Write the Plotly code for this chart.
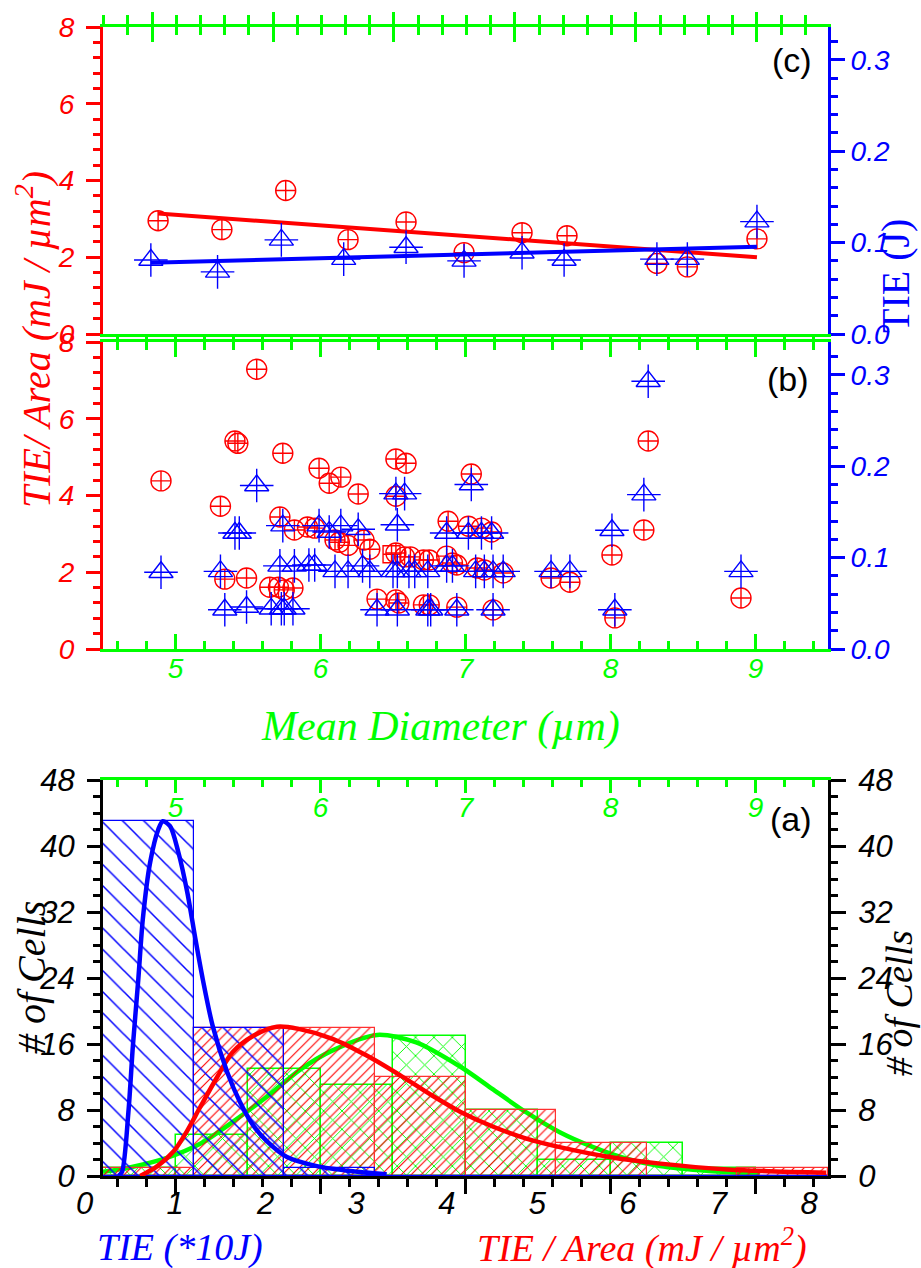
import plotly.graph_objects as go

W, H = 921, 1268
def px(x): return x / W
def py(y): return 1 - y / H

RED, BLUE, GREEN, BLACK = "#FF0000", "#0000FF", "#00FF00", "#000000"

# ---------------- data ----------------
# panel (c): averaged values vs mean diameter
c_red_d = [4.88, 5.32, 5.76, 6.19, 6.59, 6.99, 7.39, 7.70, 8.32, 8.53, 9.01]
c_red_v = [2.95, 2.72, 3.74, 2.46, 2.92, 2.12, 2.64, 2.56, 1.84, 1.75, 2.48]
c_blue_d = [4.83, 5.29, 5.73, 6.16, 6.59, 6.99, 7.39, 7.68, 8.32, 8.53, 9.01]
c_blue_v = [0.081, 0.068, 0.103, 0.082, 0.095, 0.080, 0.089, 0.081, 0.082, 0.082, 0.123]
c_red_fit_d = [4.88, 9.01]
c_red_fit_v = [3.14, 2.00]
c_blue_fit_d = [4.83, 9.01]
c_blue_fit_v = [0.078, 0.0956]

# panel (b): individual cells
b_red_d = [4.90, 5.31, 5.34, 5.41, 5.43, 5.49, 5.56, 5.65, 5.72, 5.74, 5.71, 5.75, 5.81,
           5.82, 5.91, 5.96, 5.99, 6.06, 6.10, 6.13, 6.14, 6.19, 6.26, 6.30, 6.34, 6.39,
           6.52, 6.52, 6.52, 6.52, 6.54, 6.59, 6.58, 6.62, 6.71, 6.75, 6.71, 6.75, 6.88,
           6.87, 6.91, 6.94, 6.94, 7.04, 7.02, 7.11, 7.18, 7.08, 7.13, 7.26, 7.19, 7.59,
           7.72, 8.01, 8.26, 8.23, 8.03, 8.90]
b_red_v = [4.38, 3.72, 1.82, 5.42, 5.36, 1.85, 7.29, 1.61, 3.44, 5.10, 1.61, 1.54, 1.59,
           3.10, 3.18, 3.15, 4.71, 4.32, 2.84, 2.78, 4.48, 2.70, 4.04, 2.84, 2.60, 1.30,
           4.95, 3.98, 2.50, 1.28, 1.20, 4.84, 2.40, 2.40, 2.32, 2.32, 1.15, 1.15, 3.33,
           2.42, 2.24, 2.19, 1.09, 4.56, 3.20, 3.15, 3.05, 2.11, 2.06, 1.98, 1.02, 1.85,
           1.74, 2.45, 5.42, 3.10, 0.81, 1.33]
b_sq_d = [6.49]
b_sq_v = [2.47]
b_blue_d = [5.34, 5.49, 5.66, 5.73, 5.75, 5.81, 6.39, 6.53, 6.74, 6.76, 6.94, 7.19, 8.03,
            4.90, 5.31, 5.72, 5.82, 5.92, 5.96, 6.10, 6.19, 6.29, 6.34, 6.50, 6.53, 6.61,
            6.65, 6.74, 6.87, 6.91, 7.07, 7.13, 7.19, 7.26, 7.59, 7.72, 8.90,
            5.41, 5.44, 5.74, 5.99, 6.06, 6.14, 6.26, 6.53, 6.87, 7.02, 7.11, 7.18, 8.01,
            5.56, 6.52, 6.58, 7.04, 8.23, 8.26]
b_blue_v = [0.043, 0.046, 0.044, 0.044, 0.044, 0.044, 0.043, 0.043, 0.043, 0.043, 0.043, 0.043, 0.043,
            0.084, 0.085, 0.091, 0.091, 0.092, 0.092, 0.085, 0.085, 0.091, 0.085, 0.085, 0.085, 0.085,
            0.085, 0.085, 0.091, 0.091, 0.085, 0.085, 0.085, 0.085, 0.085, 0.085, 0.085,
            0.127, 0.127, 0.135, 0.135, 0.128, 0.135, 0.131, 0.136, 0.127, 0.127, 0.127, 0.127, 0.130,
            0.179, 0.170, 0.170, 0.180, 0.169, 0.293]

# panel (a): histograms
tie_edges = [0.22, 1.22, 2.22, 3.22, 4.22, 5.22, 6.22, 7.22, 8.22]
tie_counts = [43, 18, 1, 0, 0, 0, 0, 0]          # TIE (*10 J)
area_counts = [1, 18, 18, 12, 8, 4, 0, 1]        # TIE / Area
diam_edges = [4.5, 5.0, 5.5, 6.0, 6.5, 7.0, 7.5, 8.0, 8.5, 9.0]
diam_counts = [1, 5, 13, 11, 17, 8, 2, 4, 1]     # mean diameter

tie_fit_x = [0.39, 0.43, 0.50, 0.55, 0.61, 0.66, 0.74, 0.83, 0.88, 0.96, 1.05, 1.15, 1.24,
             1.32, 1.43, 1.59, 1.73, 1.88, 2.03, 2.25, 2.58, 2.95, 3.35]
tie_fit_y = [0.0, 0.5, 7.7, 15.8, 23.9, 31.2, 38.0, 42.0, 43.0, 42.4, 39.3, 34.4, 28.7,
             23.9, 18.2, 12.6, 9.0, 6.1, 4.2, 2.3, 1.2, 0.6, 0.2]
area_fit_x = [0.63, 0.82, 1.0, 1.15, 1.29, 1.48, 1.65, 1.88, 2.14, 2.39, 2.76, 3.13, 3.5,
              3.86, 4.16, 4.52, 4.90, 5.26, 5.81, 6.37, 7.11, 8.2]
area_fit_y = [0.0, 1.2, 3.0, 5.5, 8.3, 12.0, 15.0, 17.0, 18.1, 17.8, 16.6, 14.6, 12.2,
              9.7, 7.8, 6.0, 4.5, 3.5, 2.3, 1.5, 0.8, 0.4]
diam_fit_x = [4.5, 4.70, 4.94, 5.17, 5.39, 5.63, 5.86, 6.08, 6.39, 6.66, 6.96, 7.19, 7.42,
              7.65, 7.88, 8.11, 8.34, 8.68, 9.03]
diam_fit_y = [0.5, 1.1, 2.2, 3.9, 6.5, 9.6, 12.9, 15.2, 17.1, 16.2, 13.3, 10.5, 7.7,
              5.3, 3.5, 2.1, 1.2, 0.6, 0.3]

diam_ticks = [5, 6, 7, 8, 9]
tie_labels = [0, 1, 2, 3, 4, 5, 6, 7, 8]
left_ticks = [0, 2, 4, 6, 8]
right_ticks = [0.0, 0.1, 0.2, 0.3]
count_ticks = [0, 8, 16, 24, 32, 40, 48]

# ---------------- figure ----------------
fig = go.Figure()

def centers(edges):
    return [(a + b) / 2 for a, b in zip(edges[:-1], edges[1:])]

def widths(edges):
    return [b - a for a, b in zip(edges[:-1], edges[1:])]

# histogram bars
fig.add_trace(go.Bar(x=centers(tie_edges), y=area_counts, width=widths(tie_edges),
                     xaxis="x6", yaxis="y5",
                     marker=dict(color="rgba(0,0,0,0)", line=dict(color="#FF3030", width=1.2),
                                 pattern=dict(shape="/", size=7, solidity=0.16, fgcolor=RED,
                                              bgcolor="rgba(0,0,0,0)", fillmode="replace"))))
fig.add_trace(go.Bar(x=centers(tie_edges), y=tie_counts, width=widths(tie_edges),
                     xaxis="x6", yaxis="y5",
                     marker=dict(color="rgba(0,0,0,0)", line=dict(color=BLUE, width=1.2),
                                 pattern=dict(shape="\\", size=15, solidity=0.1, fgcolor=BLUE,
                                              bgcolor="rgba(0,0,0,0)", fillmode="replace"))))
fig.add_trace(go.Bar(x=centers(diam_edges), y=diam_counts, width=widths(diam_edges),
                     xaxis="x5", yaxis="y5",
                     marker=dict(color="rgba(0,0,0,0)", line=dict(color=GREEN, width=1.5),
                                 pattern=dict(shape="x", size=13, solidity=0.14, fgcolor=GREEN,
                                              bgcolor="rgba(0,0,0,0)", fillmode="replace"))))
# fitted curves
fig.add_trace(go.Scatter(x=area_fit_x, y=area_fit_y, mode="lines", xaxis="x6", yaxis="y5",
                         line=dict(color=RED, width=4.5, shape="spline", smoothing=0.9)))
fig.add_trace(go.Scatter(x=tie_fit_x, y=tie_fit_y, mode="lines", xaxis="x6", yaxis="y5",
                         line=dict(color=BLUE, width=4.5, shape="spline", smoothing=0.8)))
fig.add_trace(go.Scatter(x=diam_fit_x, y=diam_fit_y, mode="lines", xaxis="x5", yaxis="y5",
                         line=dict(color=GREEN, width=4.5, shape="spline", smoothing=0.8)))

def circles(x, y, xa, ya):
    fig.add_trace(go.Scatter(x=x, y=y, mode="markers", xaxis=xa, yaxis=ya,
                             marker=dict(symbol="circle-cross-open", size=20, color=RED,
                                         line=dict(width=1.4, color=RED))))

def triangles(x, y, xa, ya):
    fig.add_trace(go.Scatter(x=x, y=y, mode="markers", xaxis=xa, yaxis=ya,
                             marker=dict(symbol="triangle-up-open", size=21, color=BLUE,
                                         line=dict(width=1.4, color=BLUE))))
    fig.add_trace(go.Scatter(x=x, y=y, mode="markers", xaxis=xa, yaxis=ya,
                             marker=dict(symbol="cross-thin-open", size=24, color=BLUE,
                                         line=dict(width=1.4, color=BLUE))))

# panel (b)
circles(b_red_d, b_red_v, "x4", "y3")
fig.add_trace(go.Scatter(x=b_sq_d, y=b_sq_v, mode="markers", xaxis="x4", yaxis="y3",
                         marker=dict(symbol="square-cross-open", size=17, color=RED,
                                     line=dict(width=1.4, color=RED))))
triangles(b_blue_d, b_blue_v, "x4", "y4")

# panel (c)
circles(c_red_d, c_red_v, "x", "y")
triangles(c_blue_d, c_blue_v, "x", "y2")
fig.add_trace(go.Scatter(x=c_red_fit_d, y=c_red_fit_v, mode="lines", xaxis="x", yaxis="y",
                         line=dict(color=RED, width=4)))
fig.add_trace(go.Scatter(x=c_blue_fit_d, y=c_blue_fit_v, mode="lines", xaxis="x", yaxis="y2",
                         line=dict(color=BLUE, width=4)))

# dummy traces so that auxiliary axes are drawn
for xa, ya in [("x2", "y"), ("x3", "y"), ("x7", "y5"), ("x8", "y5"), ("x9", "y5"), ("x6", "y6")]:
    fig.add_trace(go.Scatter(x=[None], y=[None], mode="markers", xaxis=xa, yaxis=ya,
                             hoverinfo="skip"))

XD = [px(103), px(828)]
YC = [py(334), py(27)]
YB = [py(649), py(342)]
YA = [py(1176), py(780)]

def tfont(color, size=28):
    return dict(family="Liberation Sans", size=size, color=color, style="italic")

base = dict(showgrid=False, zeroline=False, showline=True, linewidth=3, tickwidth=3,
            automargin=False)

layout = dict(
    template="none",
    width=W, height=H, margin=dict(l=0, r=0, t=0, b=0, pad=0, autoexpand=False),
    paper_bgcolor="white", plot_bgcolor="rgba(0,0,0,0)",
    showlegend=False, barmode="overlay", bargap=0,
    # ---- panel (c)
    xaxis=dict(base, domain=XD, anchor="y", range=[4.5, 9.5], linecolor=GREEN, tickcolor=GREEN,
               ticks="outside", ticklen=8, tickvals=diam_ticks, showticklabels=False,
               minor=dict(dtick=0.2, tick0=4.6, ticks="outside", ticklen=8, tickwidth=3, tickcolor=GREEN)),
    xaxis2=dict(base, overlaying="x", anchor="y", side="top", range=[-0.405, 5.587],
                linecolor=GREEN, tickcolor=GREEN, ticks="outside", ticklen=12, dtick=1, tick0=0,
                showticklabels=False,
                minor=dict(dtick=0.2, ticks="outside", ticklen=9, tickwidth=3, tickcolor=GREEN)),
    xaxis3=dict(base, overlaying="x", anchor="y", side="top", range=[-0.405, 5.587],
                linecolor=GREEN, tickcolor=GREEN, ticks="inside", ticklen=15, dtick=1, tick0=0,
                showticklabels=False,
                minor=dict(dtick=0.2, ticks="inside", ticklen=8, tickwidth=3, tickcolor=GREEN)),
    yaxis=dict(base, domain=YC, anchor="x", range=[0, 8], linecolor=RED, tickcolor=RED,
               ticks="outside", ticklen=14, tickvals=left_ticks, tickfont=tfont(RED),
               ticklabelstandoff=6,
               minor=dict(dtick=0.4, ticks="outside", ticklen=7, tickwidth=3, tickcolor=RED)),
    yaxis2=dict(base, overlaying="y", anchor="x", side="right", range=[0, 0.336],
                linecolor=BLUE, tickcolor=BLUE, ticks="outside", ticklen=14,
                tickvals=right_ticks, tickformat=".1f", tickfont=tfont(BLUE),
                minor=dict(dtick=0.02, ticks="outside", ticklen=7, tickwidth=3, tickcolor=BLUE)),
    # ---- panel (b)
    xaxis4=dict(base, domain=XD, anchor="y3", range=[4.5, 9.5], linecolor=GREEN, tickcolor=GREEN,
                ticks="inside", ticklen=15, mirror="ticks", tickvals=diam_ticks,
                tickfont=tfont(GREEN, 28), ticklabelstandoff=-8,
                minor=dict(dtick=0.2, tick0=4.6, ticks="inside", ticklen=8, tickwidth=3, tickcolor=GREEN)),
    yaxis3=dict(base, domain=YB, anchor="x4", range=[0, 8], linecolor=RED, tickcolor=RED,
                ticks="outside", ticklen=14, tickvals=left_ticks, tickfont=tfont(RED),
                ticklabelstandoff=6,
                minor=dict(dtick=0.4, ticks="outside", ticklen=7, tickwidth=3, tickcolor=RED)),
    yaxis4=dict(base, overlaying="y3", anchor="x4", side="right", range=[0, 0.336],
                linecolor=BLUE, tickcolor=BLUE, ticks="outside", ticklen=14,
                tickvals=right_ticks, tickformat=".1f", tickfont=tfont(BLUE),
                minor=dict(dtick=0.02, ticks="outside", ticklen=7, tickwidth=3, tickcolor=BLUE)),
    # ---- panel (a)
    xaxis5=dict(base, domain=XD, anchor="y5", side="top", range=[4.5, 9.5],
                linecolor=GREEN, tickcolor=GREEN, ticks="inside", ticklen=13,
                tickvals=diam_ticks, showticklabels=False,
                minor=dict(dtick=0.2, tick0=4.6, ticks="inside", ticklen=7, tickwidth=3, tickcolor=GREEN)),
    xaxis9=dict(overlaying="x5", anchor="free", position=py(780), side="bottom", range=[4.5, 9.5],
                showline=False, showgrid=False, zeroline=False, ticks="", automargin=False,
                tickvals=diam_ticks, tickfont=tfont(GREEN, 28), ticklabelstandoff=8),
    xaxis6=dict(overlaying="x5", anchor="y5", range=[tie_edges[0], tie_edges[-1]], visible=False,
                automargin=False),
    xaxis7=dict(base, overlaying="x5", anchor="y5", side="bottom", range=[4.5, 9.5],
                linecolor=BLACK, tickcolor=BLACK, ticks="outside", ticklen=15,
                tickvals=diam_ticks, showticklabels=False,
                minor=dict(dtick=0.2, tick0=4.6, ticks="outside", ticklen=8, tickwidth=3, tickcolor=BLACK)),
    xaxis8=dict(domain=[px(84.5), px(809)], anchor="y5", side="bottom", range=[0, 8],
                showline=False, showgrid=False, zeroline=False, ticks="", automargin=False,
                tickvals=tie_labels, tickfont=tfont(BLACK, 31), ticklabelstandoff=6),
    yaxis5=dict(base, domain=YA, anchor="x5", range=[0, 48], linecolor=BLACK, tickcolor=BLACK,
                ticks="outside", ticklen=13, tickvals=count_ticks, tickfont=tfont(BLACK, 31),
                ticklabelstandoff=6,
                minor=dict(dtick=2, ticks="outside", ticklen=7, tickwidth=3, tickcolor=BLACK)),
    yaxis6=dict(base, overlaying="y5", anchor="x5", side="right", range=[0, 48],
                linecolor=BLACK, tickcolor=BLACK, ticks="outside", ticklen=15,
                tickvals=count_ticks, tickfont=tfont(BLACK, 31), ticklabelstandoff=6,
                minor=dict(dtick=2, ticks="outside", ticklen=7, tickwidth=3, tickcolor=BLACK)),
)
fig.update_layout(**layout)

SERIF = "Liberation Serif"
def note(text, x, y, color, size=40, angle=0, family=SERIF):
    fig.add_annotation(text=text, x=px(x), y=py(y), xref="paper", yref="paper",
                       xanchor="center", yanchor="middle",
                       showarrow=False, textangle=angle,
                       font=dict(family=family, size=size, color=color))

note("(c)", 792, 60, BLACK, 34, family="Liberation Sans")
note("(b)", 788, 379, BLACK, 34, family="Liberation Sans")
note("(a)", 791, 819, BLACK, 34, family="Liberation Sans")
note("<i>TIE/ Area (mJ / µm<sup>2</sup>)</i>", 33, 340, RED, 40, -90)
note("TIE (J)", 895, 276, BLUE, 40, -90)
note("<i>Mean Diameter (µm)</i>", 440, 726, GREEN, 42)
note("<i># of Cells</i>", 31, 978, BLACK, 40, -90)
note("<i># of Cells</i>", 899, 1003, BLACK, 38, -90)
note("<i>TIE (*10J)</i>", 180, 1247, BLUE, 38)
note("<i>TIE / Area (mJ / µm<sup>2</sup>)</i>", 642, 1245, RED, 38)

fig.write_html("out.html", config={"displayModeBar": False},
               post_script="document.body.style.margin='0px';")
